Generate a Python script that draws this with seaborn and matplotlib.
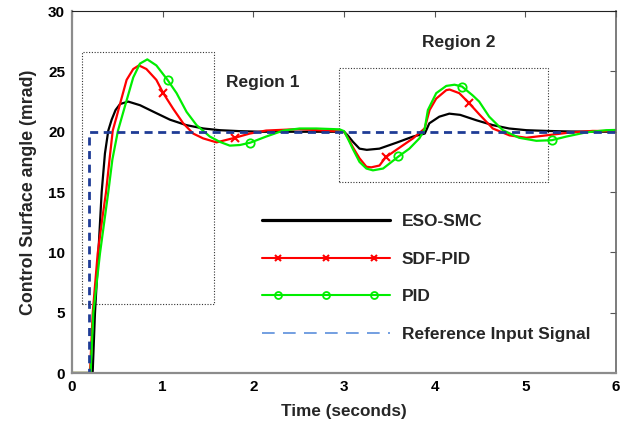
import matplotlib
matplotlib.use("Agg")
import matplotlib.pyplot as plt
import seaborn as sns
from matplotlib.lines import Line2D
from matplotlib.patches import Rectangle
from matplotlib.legend_handler import HandlerLine2D, HandlerTuple

# reference step input
ref_t = [0.0, 0.19, 0.19, 6.0]
ref_v = [0.0, 0.0, 20.0, 20.0]

# ESO-SMC response
eso_t = [0.0, 0.21, 0.228, 0.253, 0.29, 0.327, 0.363, 0.40, 0.437, 0.48, 0.53,
         0.62, 0.75, 0.90, 1.08, 1.26, 1.45, 1.63, 1.85, 2.1, 2.5, 3.0, 3.04,
         3.10, 3.17, 3.25, 3.39, 3.58, 3.76, 3.89, 3.94, 4.05, 4.16, 4.28,
         4.46, 4.64, 4.82, 5.01, 5.23, 5.5, 6.0]
eso_v = [0.0, 0.0, 0.1, 4.95, 9.9, 15.0, 18.2, 20.1, 21.0, 21.8, 22.3,
         22.5, 22.2, 21.65, 21.0, 20.55, 20.27, 20.13, 20.05, 20.0, 20.0, 20.0, 19.7,
         19.15, 18.6, 18.5, 18.6, 19.1, 19.6, 19.85, 20.7, 21.25, 21.5, 21.4,
         20.95, 20.55, 20.27, 20.13, 20.07, 20.02, 20.0]

# SDF-PID response
sdf_t = [0.0, 0.198, 0.228, 0.283, 0.33, 0.375, 0.415, 0.449, 0.49, 0.529, 0.602,
         0.675, 0.738, 0.82, 0.93, 1.006, 1.116, 1.226, 1.336, 1.446, 1.594,
         1.795, 1.96, 2.14, 2.5, 2.95, 3.0, 3.05, 3.098, 3.17, 3.246, 3.30,
         3.39, 3.458, 3.576, 3.76, 3.888, 3.943, 4.016, 4.127, 4.163, 4.27,
         4.375, 4.49, 4.64, 4.824, 5.01, 5.23, 5.45, 5.74, 6.0]
sdf_v = [0.0, 0.0, 4.95, 9.9, 12.6, 15.0, 17.8, 20.1, 21.2, 22.3, 24.3,
         25.2, 25.5, 25.2, 24.3, 23.2, 21.9, 20.7, 19.85, 19.45, 19.12,
         19.5, 19.85, 20.1, 20.22, 20.02, 20.0, 19.4, 18.7, 17.8, 17.1, 17.05,
         17.2, 17.88, 18.5, 19.45, 20.27, 21.8, 22.75, 23.45, 23.5, 23.2,
         22.4, 21.45, 20.27, 19.7, 19.5, 19.7, 19.9, 20.07, 20.05]
sdf_marks = [1.006, 1.795, 3.458, 4.375]

# PID response
pid_t = [0.0, 0.205, 0.235, 0.308, 0.355, 0.40, 0.445, 0.507, 0.602, 0.675,
         0.749, 0.83, 0.93, 1.053, 1.153, 1.263, 1.373, 1.52, 1.63, 1.74,
         1.85, 1.968, 2.14, 2.33, 2.51, 2.695, 2.95, 3.0, 3.05, 3.098, 3.17,
         3.246, 3.318, 3.43, 3.60, 3.72, 3.83, 3.888, 3.924, 4.016, 4.127,
         4.218, 4.30, 4.42, 4.49, 4.6, 4.75, 4.93, 5.12, 5.29, 5.45, 5.67,
         5.89, 6.0]
pid_v = [0.0, 0.0, 4.95, 9.9, 12.5, 15.0, 17.7, 20.1, 22.6, 24.5,
         25.65, 26.0, 25.5, 24.3, 23.2, 21.65, 20.55, 19.6, 19.16, 18.85,
         18.9, 19.1, 19.6, 20.1, 20.27, 20.27, 20.2, 20.05, 19.3, 18.55, 17.5,
         16.95, 16.8, 16.95, 17.95, 18.6, 19.45, 20.2, 21.8, 23.2, 23.8,
         23.9, 23.75, 23.0, 22.5, 21.25, 20.13, 19.5, 19.25, 19.3, 19.6, 19.95,
         20.13, 20.15]
pid_marks = [1.053, 1.968, 3.60, 4.30, 5.29]

legend_labels = ["ESO-SMC", "SDF-PID", "PID", "Reference Input Signal"]

sns.set_style("white")
plt.rcParams["font.family"] = ["Liberation Sans", "DejaVu Sans"]
plt.rcParams["font.weight"] = "bold"

fig = plt.figure(figsize=(6.23, 4.28), dpi=100)
ax = fig.add_axes([0.1156, 0.1285, 0.8734, 0.8455])

sns.lineplot(x=eso_t, y=eso_v, color="black", lw=1.6, estimator=None,
             sort=False, legend=False, ax=ax)
sns.lineplot(x=sdf_t, y=sdf_v, color="#ff0000", lw=1.6, estimator=None,
             sort=False, legend=False, ax=ax, marker="x", ms=6, mew=1.5,
             markeredgecolor="#ff0000",
             markevery=[sdf_t.index(m) for m in sdf_marks])
sns.lineplot(x=pid_t, y=pid_v, color="#00ee00", lw=1.6, estimator=None,
             sort=False, legend=False, ax=ax, marker="o", ms=6, mew=1.3,
             markeredgecolor="#00ee00", markerfacecolor="none",
             markevery=[pid_t.index(m) for m in pid_marks])
sns.lineplot(x=ref_t, y=ref_v, color="#1f3c96", lw=2.0, estimator=None,
             sort=False, legend=False, ax=ax, dashes=False,
             linestyle=(0, (2.9, 2.0)))

# dotted region boxes
for x0, y0, x1, y1 in [(0.107, 5.74, 1.568, 26.6), (2.944, 15.8, 5.245, 25.3)]:
    ax.add_patch(Rectangle((x0, y0), x1 - x0, y1 - y0, fill=False,
                           ls=(0, (1, 1.5)), lw=0.8, ec="#333333"))
ax.text(2.10, 24.1, "Region 1", ha="center", va="center",
        fontsize=12.5, fontweight="bold")
ax.text(4.264, 27.37, "Region 2", ha="center", va="center",
        fontsize=12.5, fontweight="bold")

ax.set_xlim(0, 6)
ax.set_ylim(0, 30)
ax.set_xticks(range(0, 7))
ax.set_yticks(range(0, 31, 5))
ax.tick_params(direction="in", length=4, width=0.8, top=True, right=True,
               labelsize=11, pad=5, colors="#555555", labelcolor="black")
for lab in ax.get_xticklabels() + ax.get_yticklabels():
    lab.set_fontweight("bold")
for side in ["left", "bottom"]:
    ax.spines[side].set_color("#8c8c8c")
    ax.spines[side].set_linewidth(1.6)
ax.spines["top"].set_color("#222222")
ax.spines["top"].set_linewidth(0.8)
ax.spines["right"].set_color("#666666")
ax.spines["right"].set_linewidth(1.2)

ax.set_xlabel("Time (seconds)", fontsize=12.3, fontweight="bold", labelpad=7)
ax.set_ylabel("Control Surface angle (mrad)", fontsize=12.8,
              fontweight="bold", labelpad=8)

# legend drawn MATLAB-like: long samples, three markers inside
eso_h = Line2D([], [], color="black", lw=2.3)
sdf_line = Line2D([], [], color="#ff0000", lw=1.5)
sdf_mk = Line2D([], [], color="#ff0000", ls="none", marker="x", ms=5, mew=1.5)
pid_line = Line2D([], [], color="#00ee00", lw=1.5)
pid_mk = Line2D([], [], color="#00ee00", ls="none", marker="o", ms=5,
                mew=1.3, mfc="none")
ref_h = Line2D([], [], color="#5b8fdc", lw=1.2, ls=(0, (7.6, 5)))
hmap = {sdf_mk: HandlerLine2D(numpoints=3, marker_pad=0.95),
        pid_mk: HandlerLine2D(numpoints=3, marker_pad=0.95)}
ax.legend([eso_h, (sdf_line, sdf_mk), (pid_line, pid_mk), ref_h], legend_labels,
          handler_map={**hmap, tuple: HandlerTuple(ndivide=1)},
          numpoints=1, frameon=False, loc="upper left",
          bbox_to_anchor=(0.349, 0.44), borderaxespad=0, borderpad=0,
          handlelength=7.4, handletextpad=0.65, labelspacing=1.3,
          prop={"weight": "bold", "size": 12.5})

fig.savefig("out.png", dpi=100)
